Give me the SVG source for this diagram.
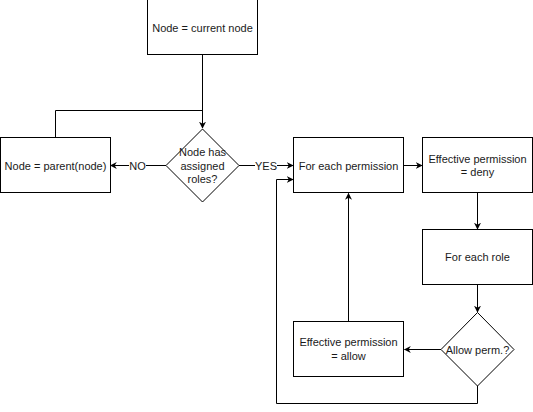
<svg xmlns="http://www.w3.org/2000/svg" width="533" height="412" viewBox="0 0 533 412">
<style>
.box{fill:#fff;stroke:#000;stroke-width:1}
.t{font-family:"Liberation Sans",Arial,sans-serif;font-size:11px;fill:#1a1a1a;text-anchor:middle}
.c{fill:none;stroke:#000;stroke-width:1}
.lbl{fill:#fff}
</style>
<defs>
<marker id="ah" viewBox="0 0 10 10" refX="9" refY="5" markerWidth="7" markerHeight="7" markerUnits="userSpaceOnUse" orient="auto">
<path d="M0,0 L10,5 L0,10 L3,5 Z" fill="#000"/>
</marker>
</defs>
<rect width="533" height="412" fill="#fff"/>
<g id="connectors">
<path class="c" d="M202.5,55 V128" marker-end="url(#ah)"/>
<path class="c" d="M202.5,110.5 H55.5 V137"/>
<path class="c" d="M166,165.5 H110.5" marker-end="url(#ah)"/>
<path class="c" d="M239,165.5 H293" marker-end="url(#ah)"/>
<path class="c" d="M404,165.5 H422" marker-end="url(#ah)"/>
<path class="c" d="M477.5,193 V229" marker-end="url(#ah)"/>
<path class="c" d="M477.5,284 V312" marker-end="url(#ah)"/>
<path class="c" d="M441,349.5 H404.5" marker-end="url(#ah)"/>
<path class="c" d="M348.5,321 V193.5" marker-end="url(#ah)"/>
<path class="c" d="M477.5,386 V403.5 H276.5 V179.5 H293" marker-end="url(#ah)"/>
<rect class="lbl" x="129" y="159" width="17" height="13"/>
<text class="t" x="137.5" y="169.5">NO</text>
<rect class="lbl" x="255" y="159" width="22" height="13"/>
<text class="t" x="266" y="169.5">YES</text>
</g>
<g id="node-current">
<rect class="box" x="147.5" y="-0.5" width="110" height="55"/>
<text class="t" x="202.5" y="31.5">Node = current node</text>
</g>
<g id="node-parent">
<rect class="box" x="0.5" y="137.5" width="110" height="55"/>
<text class="t" x="55.5" y="169.5">Node = parent(node)</text>
</g>
<g id="node-has-roles">
<polygon class="box" points="202.5,129 239,165.5 202.5,202 166,165.5"/>
<text class="t" x="202.5" y="156">Node has</text>
<text class="t" x="202.5" y="169.5">assigned</text>
<text class="t" x="202.5" y="183">roles?</text>
</g>
<g id="node-each-perm">
<rect class="box" x="293.5" y="137.5" width="110" height="55"/>
<text class="t" x="348.5" y="169.5">For each permission</text>
</g>
<g id="node-deny">
<rect class="box" x="422.5" y="137.5" width="110" height="55"/>
<text class="t" x="477.5" y="162.5">Effective permission</text>
<text class="t" x="477.5" y="176">= deny</text>
</g>
<g id="node-each-role">
<rect class="box" x="422.5" y="229.5" width="110" height="55"/>
<text class="t" x="477.5" y="261">For each role</text>
</g>
<g id="node-allow-perm">
<polygon class="box" points="477.5,312.5 514,349.5 477.5,386 441,349.5"/>
<text class="t" x="477.5" y="353.5">Allow perm.?</text>
</g>
<g id="node-allow">
<rect class="box" x="293.5" y="321.5" width="110" height="55"/>
<text class="t" x="348.5" y="346">Effective permission</text>
<text class="t" x="348.5" y="359.5">= allow</text>
</g>
</svg>
